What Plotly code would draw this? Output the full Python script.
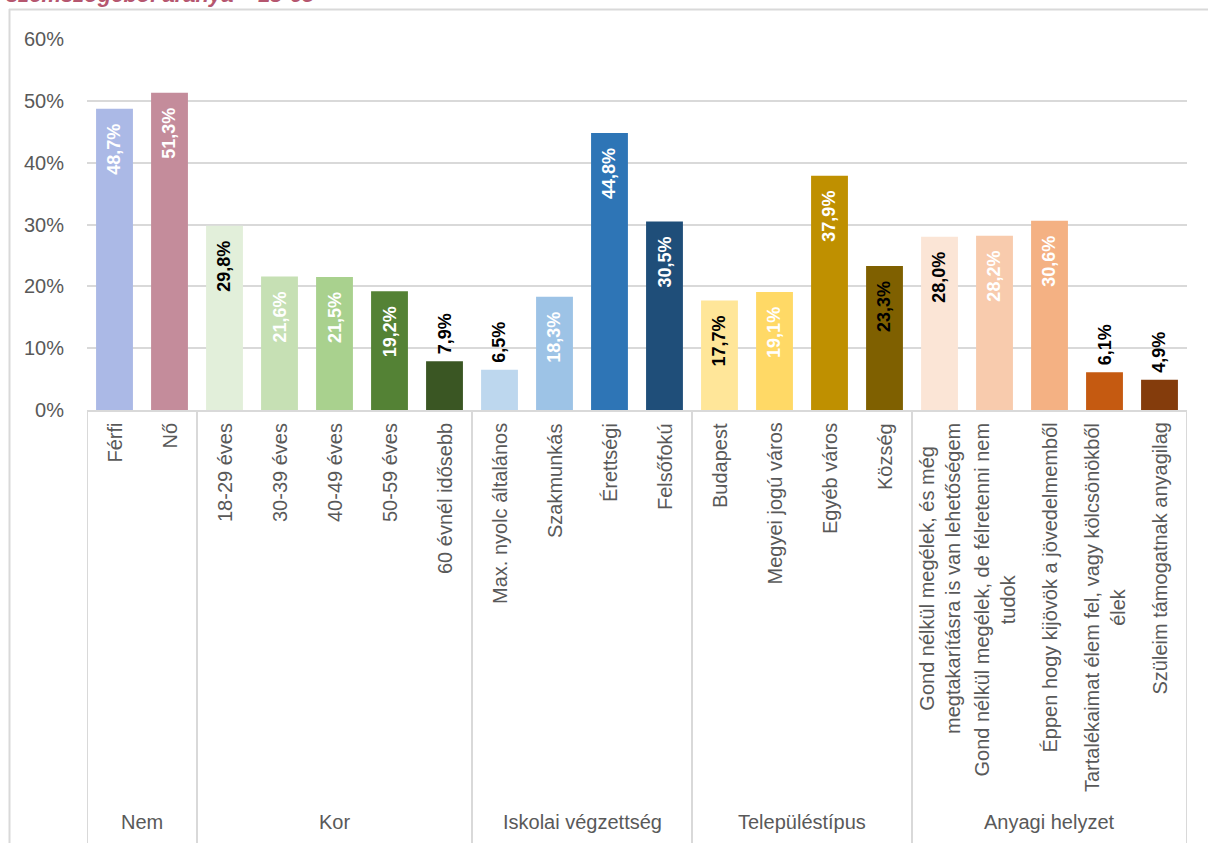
import plotly.graph_objects as go

# Survey breakdown by demographic group (share of respondents, %)
categories = [
    "Férfi", "Nő",
    "18-29 éves", "30-39 éves", "40-49 éves", "50-59 éves", "60 évnél idősebb",
    "Max. nyolc általános", "Szakmunkás", "Érettségi", "Felsőfokú",
    "Budapest", "Megyei jogú város", "Egyéb város", "Község",
    "Gond nélkül megélek, és még<br>megtakarításra is van lehetőségem",
    "Gond nélkül megélek, de félretenni nem<br>tudok",
    "Éppen hogy kijövök a jövedelmemből",
    "Tartalékaimat élem fel, vagy kölcsönökből<br>élek",
    "Szüleim támogatnak anyagilag",
]
values = [48.7, 51.3, 29.8, 21.6, 21.5, 19.2, 7.9, 6.5, 18.3, 44.8, 30.5,
          17.7, 19.1, 37.9, 23.3, 28.0, 28.2, 30.6, 6.1, 4.9]
group_names = ["Nem", "Kor", "Iskolai végzettség", "Településtípus", "Anyagi helyzet"]
group_sizes = [2, 5, 4, 4, 5]
bar_colors = ["#abb9e6", "#c48c9b",
              "#e2efda", "#c6e0b4", "#a9d18e", "#548235", "#3a5623",
              "#bdd7ee", "#9dc3e6", "#2e75b6", "#1f4e79",
              "#ffe699", "#ffd966", "#bf9000", "#7f6000",
              "#fbe5d6", "#f8cbad", "#f4b183", "#c55a11", "#843c0c"]
label_colors = ["white", "white",
                "black", "white", "white", "white", "black",
                "black", "white", "white", "white",
                "black", "white", "white", "black",
                "black", "white", "white", "black", "black"]
title_text = "szemszögéből aránya – 18-65"

FONT = "Liberation Sans, Arial, sans-serif"
GRID = "#d9d9d9"
TEXT = "#595959"

# plot area geometry (pixels)
W, H = 1208, 843
L, R, T, B = 87, 21, 39, 433
PW, PH = W - L - R, H - T - B


def px_x(X):
    return (X - L) / PW


def px_y(Y):
    return (H - B - Y) / PH


xs = list(range(len(categories)))
fig = go.Figure(go.Bar(
    x=xs, y=values, width=0.67,
    marker=dict(color=bar_colors, line=dict(width=0)),
    hoverinfo="skip",
))

annotations = []
# value labels
for i, v in enumerate(values):
    txt = f"{v:.1f}".replace(".", ",") + "%"
    inside = v > 10
    annotations.append(dict(
        x=i, y=v, xref="x", yref="y", text=f"<b>{txt}</b>",
        textangle=-90, showarrow=False,
        yanchor="top" if inside else "bottom",
        yshift=-13 if inside else 5,
        font=dict(family=FONT, size=18, color=label_colors[i]),
    ))
# category labels
for i, c in enumerate(categories):
    annotations.append(dict(
        x=i, y=px_y(421), xref="x", yref="paper", text=c,
        textangle=-90, showarrow=False, yanchor="top", align="center",
        font=dict(family=FONT, size=20, color=TEXT),
    ))
# group labels and separators
shapes = []
start = 0
bounds = [-0.5]
for name, n in zip(group_names, group_sizes):
    center = start + (n - 1) / 2
    annotations.append(dict(
        x=center, y=px_y(822), xref="x", yref="paper", text=name,
        showarrow=False, yanchor="middle",
        font=dict(family=FONT, size=20, color=TEXT),
    ))
    start += n
    bounds.append(start - 0.5)
for b in bounds:
    shapes.append(dict(type="line", xref="x", yref="paper", x0=b, x1=b,
                       y0=0, y1=px_y(850), line=dict(color=GRID, width=2)))

# outer frame
shapes.append(dict(type="line", xref="paper", yref="paper",
                   x0=px_x(9), x1=px_x(1215), y0=px_y(9.5), y1=px_y(9.5),
                   line=dict(color=GRID, width=2)))
shapes.append(dict(type="line", xref="paper", yref="paper",
                   x0=px_x(9.5), x1=px_x(9.5), y0=px_y(9), y1=px_y(850),
                   line=dict(color=GRID, width=2)))

# heading (partly outside the page top)
annotations.append(dict(
    x=px_x(4), y=px_y(9), xref="paper", yref="paper",
    text=f"<b><i>{title_text}</i></b>", showarrow=False,
    xanchor="left", yanchor="bottom",
    font=dict(family=FONT, size=22, color="#b5566f"),
))

fig.update_layout(
    width=W, height=H,
    margin=dict(l=L, r=R, t=T, b=B, pad=0),
    paper_bgcolor="white", plot_bgcolor="white",
    showlegend=False,
    bargap=0.33,
    xaxis=dict(range=[-0.5, len(categories) - 0.5], showticklabels=False,
               showgrid=False, zeroline=False, showline=True,
               linecolor=GRID, linewidth=2, ticks=""),
    yaxis=dict(range=[0, 60], dtick=10, ticksuffix="%",
               showgrid=True, gridcolor=GRID, gridwidth=2,
               zeroline=False, showline=False, ticks="",
               ticklabelstandoff=22,
               tickfont=dict(family=FONT, size=20, color=TEXT)),
    annotations=annotations,
    shapes=shapes,
)

fig.write_html("out.html")
